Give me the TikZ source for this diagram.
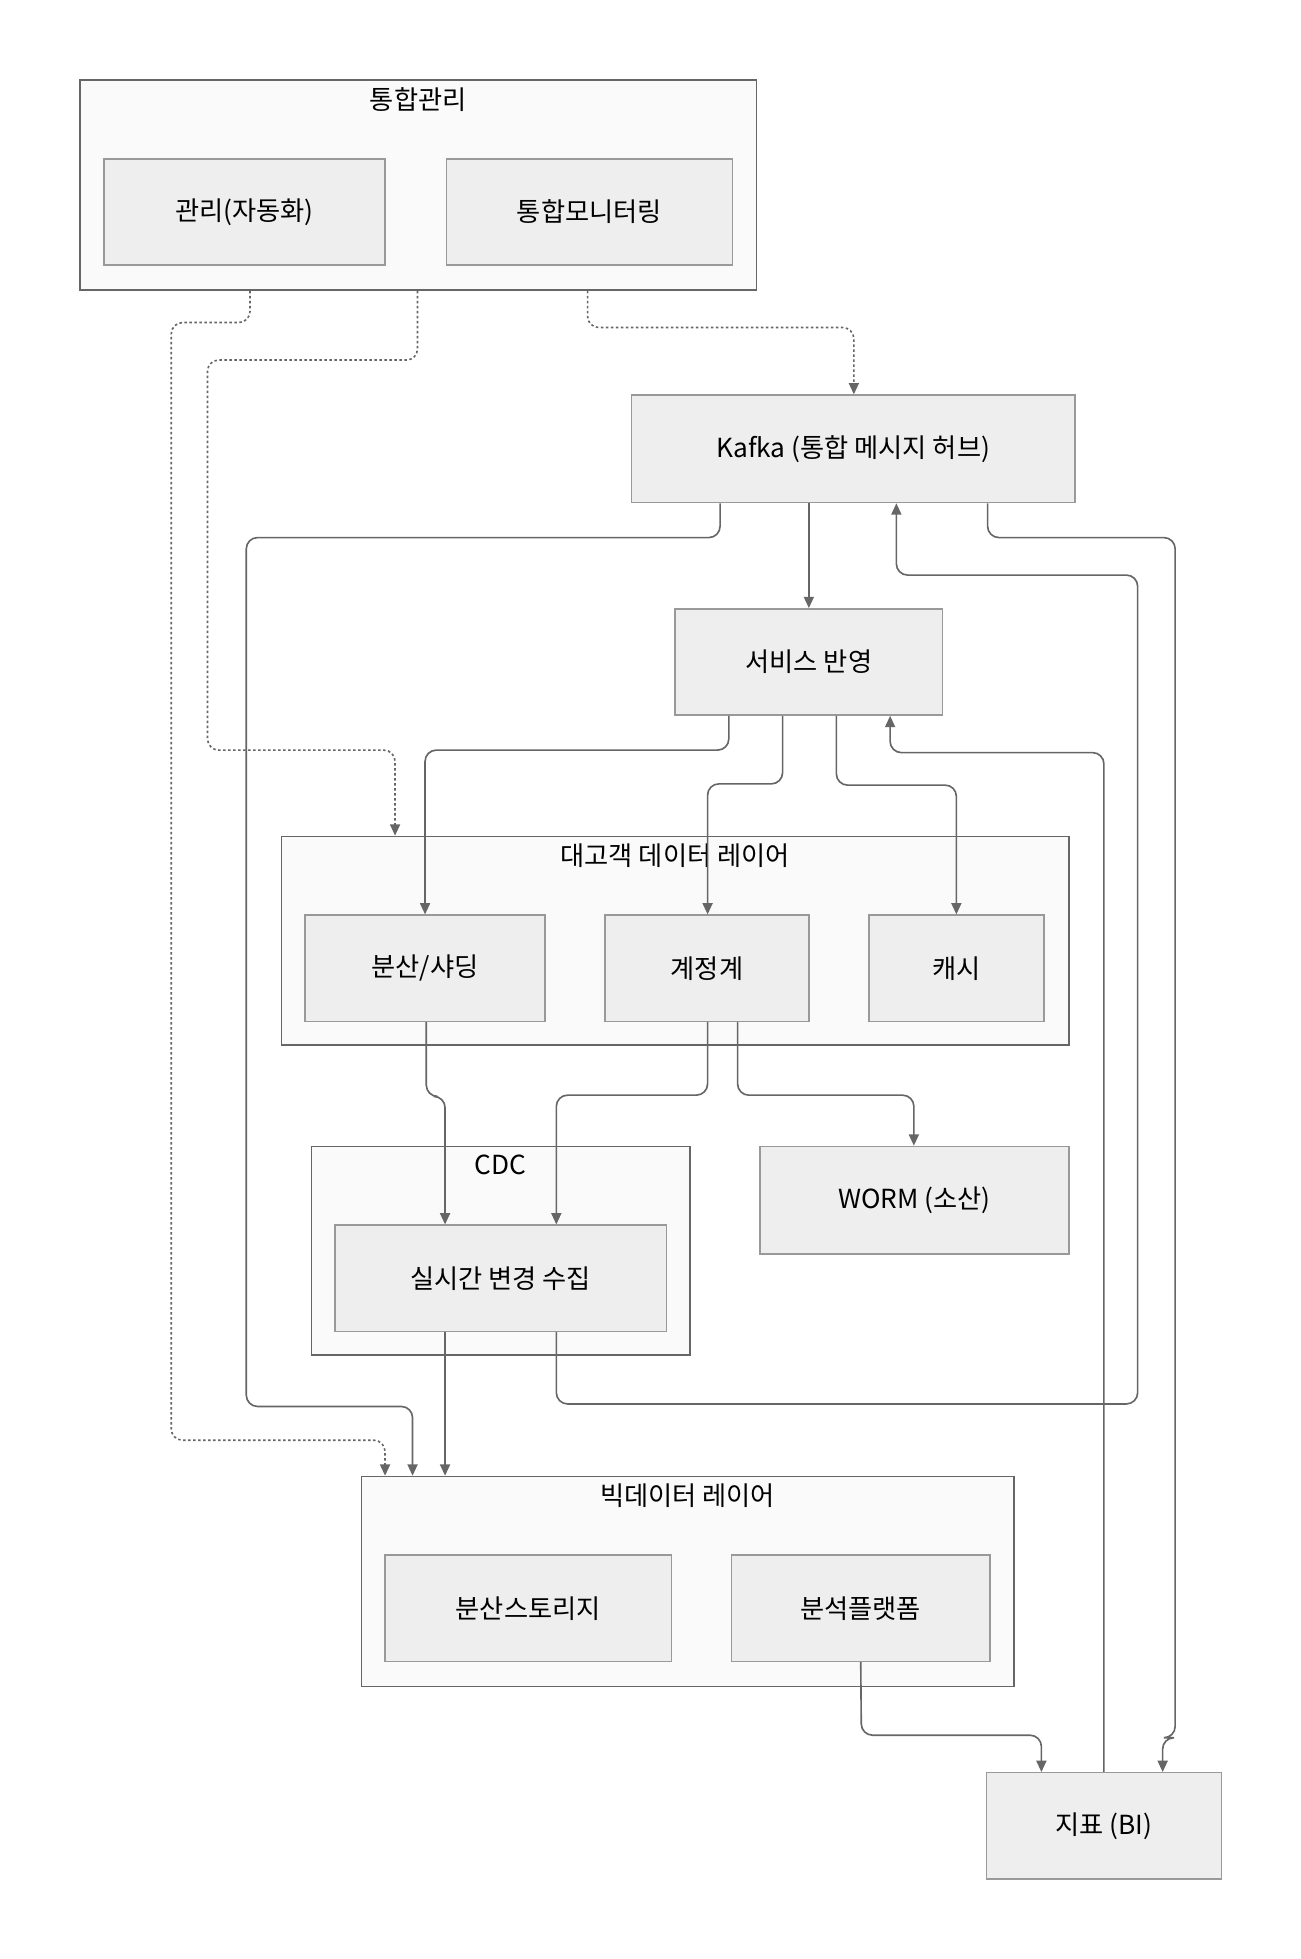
\documentclass[tikz,border=0pt]{standalone}
\usepackage{fontspec}
\setmainfont{Noto Sans CJK KR}
\usetikzlibrary{arrows.meta}
\definecolor{bfill}{HTML}{EEEEEE}
\definecolor{gfill}{HTML}{FAFAFA}
\definecolor{lc}{HTML}{666666}
\begin{document}
\begin{tikzpicture}[x=1pt,y=-1pt,
  box/.style={draw=black!40,fill=bfill,line width=1.2pt,inner sep=0,font=\fontsize{21}{24}\selectfont},
  grp/.style={draw=lc,fill=gfill,line width=1.2pt,inner sep=0},
  ttl/.style={anchor=north,inner sep=0,font=\fontsize{21}{24}\selectfont},
  e/.style={draw=lc,line width=1.3pt,rounded corners=9pt,-{Triangle[length=9pt,width=8pt]}},
  d/.style={e,dash pattern=on 2pt off 2pt}]
\useasboundingbox[fill=white] (0,0) rectangle (1040,1567);
\node[grp,minimum width=541pt,minimum height=168pt] (mgmt) at (334.5,148) {};
\node[ttl] (mgmtt) at (334.5,70) {통합관리};
\node[box,minimum width=225pt,minimum height=85pt] (auto) at (195.5,169.5) {관리(자동화)};
\node[box,minimum width=229pt,minimum height=85pt] (mon) at (471.5,169.5) {통합모니터링};
\node[box,minimum width=355pt,minimum height=86pt] (kafka) at (682.5,359) {Kafka (통합 메시지 허브)};
\node[box,minimum width=214pt,minimum height=85pt] (svc) at (647,529.5) {서비스 반영};
\node[grp,minimum width=630pt,minimum height=167pt] (cust) at (540,752.5) {};
\node[ttl] (custt) at (540,675) {대고객 데이터 레이어};
\node[box,minimum width=192pt,minimum height=85pt] (shard) at (340,774.5) {분산/샤딩};
\node[box,minimum width=163pt,minimum height=85pt] (acct) at (565.5,774.5) {계정계};
\node[box,minimum width=140pt,minimum height=85pt] (cache) at (765,774.5) {캐시};
\node[grp,minimum width=303pt,minimum height=167pt] (cdcg) at (400.5,1000.5) {};
\node[ttl] (cdct) at (400.5,924) {CDC};
\node[box,minimum width=265pt,minimum height=85pt] (rt) at (400.5,1022.5) {실시간 변경 수집};
\node[box,minimum width=247pt,minimum height=86pt] (worm) at (731.5,960) {WORM (소산)};
\node[grp,minimum width=522pt,minimum height=168pt] (bigg) at (550,1265) {};
\node[ttl] (bigt) at (550,1187) {빅데이터 레이어};
\node[box,minimum width=229pt,minimum height=85pt] (stor) at (422.5,1286.5) {분산스토리지};
\node[box,minimum width=207pt,minimum height=85pt] (anal) at (688.5,1286.5) {분석플랫폼};
\node[box,minimum width=188pt,minimum height=85pt] (bi) at (883,1460.5) {지표 (BI)};
% dashed
\draw[d] ([xshift=-134.5]mgmt.south) -- (200,258) -- (137,258) -- (137,1152) -- (308,1152) -- ([xshift=-242]bigg.north);
\draw[d] ([xshift=-0.5]mgmt.south) -- (334,288) -- (166,288) -- (166,600) -- (316,600) -- ([xshift=-224]cust.north);
\draw[d] ([xshift=135.5]mgmt.south) -- (470,262) -- (683,262) -- ([xshift=0.5]kafka.north);
% solid
\draw[e] ([xshift=-106.5]kafka.south) -- (576,430) -- (197,430) -- (197,1125) -- (330,1125) -- ([xshift=-220]bigg.north);
\draw[e] ([xshift=-35.5]kafka.south) -- (svc.north);
\draw[e] ([xshift=107.5]kafka.south) -- (790,430) -- (940,430) -- (940,1390) -- (930,1390) -- ([xshift=47]bi.north);
\draw[e] ([xshift=44.5]rt.south) -- (445,1123) -- (910,1123) -- (910,460) -- (717,460) -- ([xshift=34.5]kafka.south);
\draw[e] (bi.north) -- (883,602) -- (712,602) -- ([xshift=65]svc.south);
\draw[e] ([xshift=-64]svc.south) -- (583,600) -- (340,600) -- (shard.north);
\draw[e] ([xshift=-21]svc.south) -- (626,627) -- (566,627) -- ([xshift=0.5]acct.north);
\draw[e] ([xshift=22]svc.south) -- (669,628) -- (765,628) -- (cache.north);
\draw[e] ([xshift=1]shard.south) -- (341,877) -- (356,877) -- ([xshift=-44.5]rt.north);
\draw[e] ([xshift=0.5]acct.south) -- (566,876) -- (445,876) -- ([xshift=44.5]rt.north);
\draw[e] ([xshift=24.5]acct.south) -- (590,876) -- (731,876) -- ([xshift=-0.5]worm.north);
\draw[e] ([xshift=-44.5]rt.south) -- ([xshift=-194]bigg.north);
\draw[e] (anal.south) -- (689,1388) -- (833,1388) -- ([xshift=-50]bi.north);
\end{tikzpicture}
\end{document}
